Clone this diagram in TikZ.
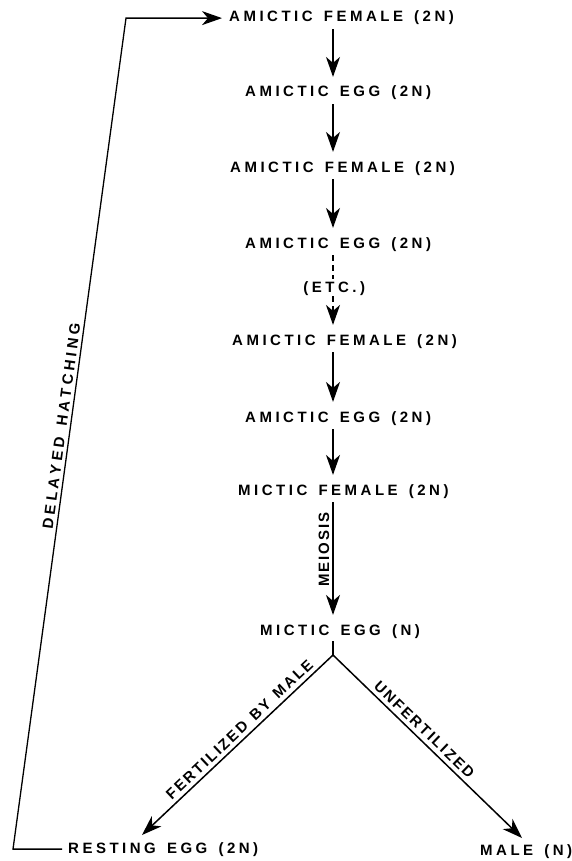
\documentclass[tikz,border=0pt]{standalone}
\usepackage{fontspec}
\setmainfont{Liberation Sans}
\usetikzlibrary{arrows.meta}
\newlength{\lsk}\setlength{\lsk}{3.5pt}
\def\lspcend{\lspcend}
\def\lspc#1{\lspcloop#1\lspcend}
\def\lspcloop#1{\ifx#1\lspcend\else#1\kern\lsk\expandafter\lspcloop\fi}
\begin{document}
\begin{tikzpicture}[x=1pt,y=-1pt,
  lbl/.style={inner sep=0pt, font=\fontsize{15}{17}\selectfont\bfseries},
  edgelbl/.style={lbl, inner ysep=3pt, anchor=south},
  ln/.style={line width=1.5pt},
  arr/.style={ln, -{Stealth[length=20pt,width=14pt,inset=6pt]}},
  vstep/.style={arr, shorten <=4pt, shorten >=9pt}]
\useasboundingbox (0,0) rectangle (571,861);
\coordinate (ax) at (333,0);
\coordinate (bx) at (13,0);
\coordinate (tx) at (126,0);
\node[lbl, anchor=base west] (r1) at (229,22) {\lspc{AMICTIC~FEMALE~(2N)}};
\node[lbl, anchor=base west] (r2) at (245,97) {\lspc{AMICTIC~EGG~(2N)}};
\node[lbl, anchor=base west] (r3) at (230,172) {\lspc{AMICTIC~FEMALE~(2N)}};
\node[lbl, anchor=base west] (r4) at (245,248) {\lspc{AMICTIC~EGG~(2N)}};
\node[lbl, anchor=base] (etc) at (336,292) {\lspc{(ETC.)}};
\node[lbl, anchor=base west] (r6) at (232,345) {\lspc{AMICTIC~FEMALE~(2N)}};
\node[lbl, anchor=base west] (r7) at (245,422) {\lspc{AMICTIC~EGG~(2N)}};
\node[lbl, anchor=base west] (r8) at (238,495) {\lspc{MICTIC~FEMALE~(2N)}};
\node[lbl, anchor=base west] (r9) at (260,635) {\lspc{MICTIC~EGG~(N)}};
\node[lbl, anchor=base west] (re) at (68,853) {\lspc{RESTING~EGG~(2N)}};
\node[lbl, anchor=base west] (ma) at (480,855) {\lspc{MALE~(N)}};
\coordinate (j) at (333,655);
\coordinate (tl) at (142,835);
\coordinate (trr) at (522,838);
% main chain
\draw[vstep] (r1.south -| ax) -- (r2.north -| ax);
\draw[vstep] (r2.south -| ax) -- (r3.north -| ax);
\draw[vstep] (r3.south -| ax) -- (r4.north -| ax);
\draw[ln, dash pattern=on 6pt off 4pt, shorten <=4pt, shorten >=2pt] (r4.south -| ax) -- (etc.north -| ax);
\draw[arr, dash pattern=on 6pt off 4pt, shorten <=1pt, shorten >=9pt] (etc.south -| ax) -- (r6.north -| ax);
\draw[vstep] (r6.south -| ax) -- (r7.north -| ax);
\draw[vstep] (r7.south -| ax) -- (r8.north -| ax);
\draw[vstep] (r8.south -| ax) -- node[pos=0.40, lbl, rotate=90, anchor=south, inner ysep=3pt] {\lsk=2pt\lspc{MEIOSIS}} (r9.north -| ax);
\draw[ln, shorten <=3pt] (r9.south -| ax) -- (j);
\draw[arr] (j) -- node[pos=0.45, rotate=43.3, edgelbl, inner ysep=4pt] {\lsk=2.2pt\lspc{FERTILIZED~BY~MALE}} (tl);
\draw[arr] (j) -- node[pos=0.45, rotate=-44, edgelbl, inner ysep=4pt] {\lsk=2.2pt\lspc{UNFERTILIZED}} (trr);
% delayed hatching loop
\draw[arr, line width=1.3pt, shorten <=6pt, shorten >=7pt] (re.west) -- (re.west -| bx) -- node[pos=0.51, rotate=82.3, edgelbl] {\lspc{DELAYED~HATCHING}} (r1.west -| tx) -- (r1.west);
\end{tikzpicture}
\end{document}
